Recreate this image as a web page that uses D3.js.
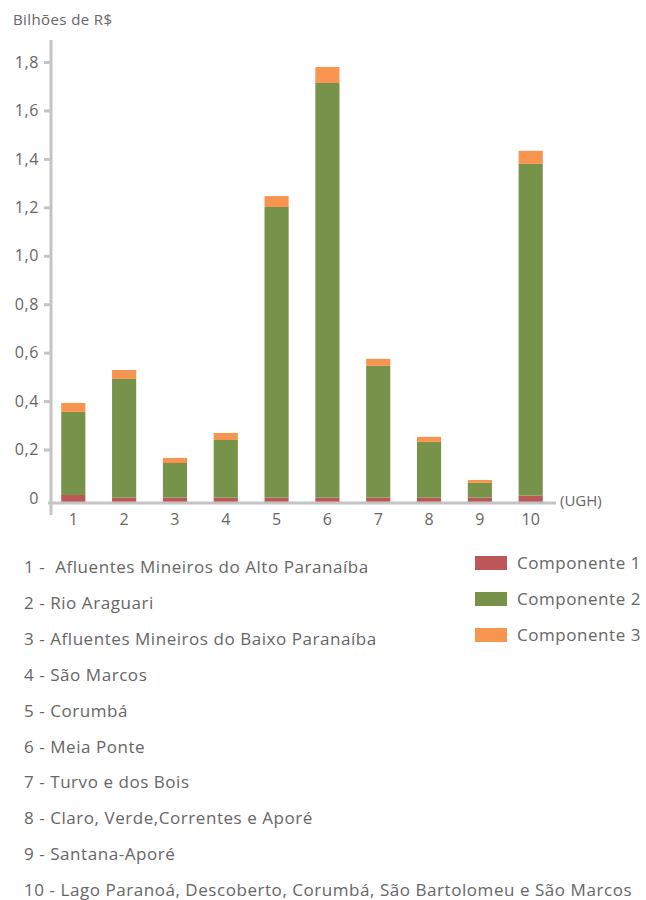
<!DOCTYPE html>
<html>
<head>
<meta charset="utf-8">
<script src="https://cdn.jsdelivr.net/npm/d3@7"></script>
<style>
  body { margin: 0; background: #fff; }
  text { font-family: "Open Sans", sans-serif; fill: #666; }
</style>
</head>
<body>
<div id="chart"></div>
<script>
// data
var ughs = ["1", "2", "3", "4", "5", "6", "7", "8", "9", "10"];
var comp1 = [0.029, 0.018, 0.018, 0.018, 0.018, 0.018, 0.018, 0.018, 0.018, 0.026];
var comp2 = [0.343, 0.49, 0.143, 0.238, 1.2, 1.712, 0.544, 0.23, 0.061, 1.37];
var comp3 = [0.037, 0.037, 0.021, 0.029, 0.045, 0.066, 0.029, 0.021, 0.012, 0.054];
var seriesNames = ["Componente 1", "Componente 2", "Componente 3"];
var seriesColors = ["#bd5757", "#77934a", "#f79450"];
var yTicks = [0, 0.2, 0.4, 0.6, 0.8, 1.0, 1.2, 1.4, 1.6, 1.8];
var ughNames = [
  "1 -  Afluentes Mineiros do Alto Paranaíba",
  "2 - Rio Araguari",
  "3 - Afluentes Mineiros do Baixo Paranaíba",
  "4 - São Marcos",
  "5 - Corumbá",
  "6 - Meia Ponte",
  "7 - Turvo e dos Bois",
  "8 - Claro, Verde,Correntes e Aporé",
  "9 - Santana-Aporé",
  "10 - Lago Paranoá, Descoberto, Corumbá, São Bartolomeu e São Marcos"
];
// the bars start slightly below the zero tick, at the axis line
var baseValue = -0.0165;

var width = 646, height = 900;
var svg = d3.select("#chart").append("svg")
  .attr("width", width)
  .attr("height", height);

//scales
var x = d3.scaleBand()
  .domain(ughs)
  .range([47, 557])
  .paddingInner(0.525)
  .paddingOuter(0.28);

var y = d3.scaleLinear()
  .domain([0, 1.8])
  .range([498, 62]);

//stack the components
var table = ughs.map(function(d, i) {
  return { ugh: d, c1: comp1[i], c2: comp2[i], c3: comp3[i] };
});
var stack = d3.stack().keys(["c1", "c2", "c3"])
  .offset(function(series, order) {
    d3.stackOffsetNone(series, order);
    series.forEach(function(s) {
      s.forEach(function(p) { p[0] += baseValue; p[1] += baseValue; });
    });
  });
var stacked = stack(table);

//bars
svg.selectAll("g.layer")
  .data(stacked)
  .enter().append("g")
  .attr("class", "layer")
  .attr("fill", function(d, i) { return seriesColors[i]; })
  .selectAll("rect")
  .data(function(d) { return d; })
  .enter().append("rect")
  .attr("x", function(d) { return x(d.data.ugh); })
  .attr("width", x.bandwidth())
  .attr("y", function(d) { return y(d[1]); })
  .attr("height", function(d) { return y(d[0]) - y(d[1]); });

//y axis
var yAxis = d3.axisLeft(y)
  .tickValues(yTicks)
  .tickSize(7)
  .tickPadding(5)
  .tickFormat(function(d) { return d === 0 ? "0" : d3.format(".1f")(d).replace(".", ","); });
var yg = svg.append("g")
  .attr("transform", "translate(51,0)")
  .call(yAxis);
yg.select(".domain").remove();
yg.selectAll("line").attr("stroke", "#c4c4c4").attr("stroke-width", 3);
yg.selectAll("line").filter(function(d) { return d === 0; }).remove();
yg.selectAll("text").style("font-size", "16px").style("letter-spacing", "0.6px").attr("fill", "#666");
svg.append("line")
  .attr("x1", 51).attr("x2", 51)
  .attr("y1", 40).attr("y2", 515)
  .attr("stroke", "#c4c4c4").attr("stroke-width", 3);

//x axis
var xAxis = d3.axisBottom(x).tickSize(0).tickPadding(12);
var xg = svg.append("g")
  .attr("transform", "translate(0," + y(baseValue) + ")")
  .call(xAxis);
xg.select(".domain").remove();
xg.selectAll("text").style("font-size", "16px").attr("fill", "#666");
svg.append("line")
  .attr("x1", 48).attr("x2", 556)
  .attr("y1", y(baseValue) + 1).attr("y2", y(baseValue) + 1)
  .attr("stroke", "#c4c4c4").attr("stroke-width", 3);

svg.append("text")
  .text("(UGH)")
  .attr("x", 560)
  .attr("y", y(baseValue) + 4)
  .style("font-size", "15px");

svg.append("text")
  .text("Bilhões de R$")
  .attr("x", 13)
  .attr("y", 25)
  .style("font-size", "15px")
  .style("letter-spacing", "0.4px");

//ugh names list
svg.selectAll("text.ughname")
  .data(ughNames)
  .enter().append("text")
  .attr("class", "ughname")
  .attr("x", 24)
  .attr("y", function(d, i) { return 573 + i * 35.9; })
  .style("font-size", "17px")
  .style("letter-spacing", "0.55px")
  .style("white-space", "pre")
  .text(function(d) { return d; });

//legend
var legend = svg.selectAll("g.legend")
  .data(seriesNames)
  .enter().append("g")
  .attr("class", "legend")
  .attr("transform", function(d, i) { return "translate(475," + (556 + i * 36) + ")"; });
legend.append("rect")
  .attr("width", 32)
  .attr("height", 14)
  .attr("fill", function(d, i) { return seriesColors[i]; });
legend.append("text")
  .attr("x", 42)
  .attr("y", 13)
  .style("font-size", "17px")
  .style("letter-spacing", "0.55px")
  .text(function(d) { return d; });
</script>
</body>
</html>
